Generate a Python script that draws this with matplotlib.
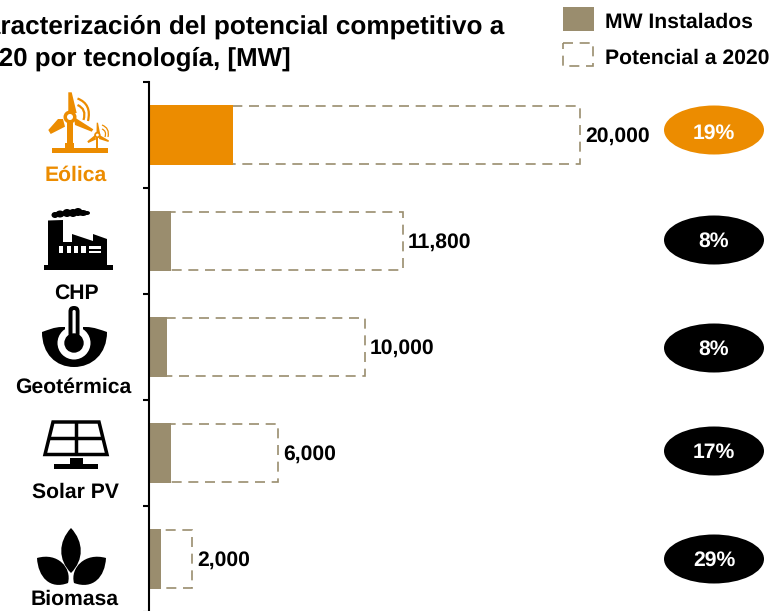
import matplotlib
matplotlib.use("Agg")
import matplotlib.pyplot as plt
from matplotlib.patches import Polygon, Rectangle, Ellipse, Circle, PathPatch, FancyBboxPatch
from matplotlib.path import Path

plt.rcParams['font.family'] = ['Liberation Sans', 'DejaVu Sans']
plt.rcParams['text.hinting'] = 'no_hinting'

categories = ["Eólica", "CHP", "Geotérmica", "Solar PV", "Biomasa"]
installed = [3900, 1000, 850, 1000, 550]
potential = [20000, 11800, 10000, 6000, 2000]
potential_labels = ["20,000", "11,800", "10,000", "6,000", "2,000"]
shares = ["19%", "8%", "8%", "17%", "29%"]
title = "Caracterización del potencial competitivo a\n2020 por tecnología, [MW]"
legend_labels = ["MW Instalados", "Potencial a 2020"]

TAUPE = "#9A8D6E"
ORANGE = "#EC8C00"
W, H = 775, 611
FS = 15.2

fig = plt.figure(figsize=(W / 100, H / 100), dpi=100, facecolor="white")
ax = fig.add_axes([149 / W, -1 / H, (W - 149) / W, 530 / H])
ax.set_xlim(0, (W - 149) / 0.02155)
ax.set_ylim(5, 0)
ypos = [i + 0.5 for i in range(len(categories))]
colors = [ORANGE] + [TAUPE] * 4
ax.barh(ypos, potential, height=0.55, facecolor="white", edgecolor=TAUPE,
        linewidth=1.2, linestyle=(0, (6, 4)))
ax.barh(ypos, installed, height=0.565, color=colors)
for y, v, s in zip(ypos, potential, potential_labels):
    ax.annotate(s, (v, y), xytext=(3.5, -0.7), textcoords="offset points", va="center",
                ha="left", fontsize=FS, fontweight="bold", color="black")
for s in ("top", "right", "bottom"):
    ax.spines[s].set_visible(False)
ax.spines["left"].set_linewidth(1.5)
ax.set_xticks([])
ax.set_yticks(range(6))
ax.set_yticklabels([])
ax.tick_params(axis="y", length=4.5, width=1.5)

# overlay in pixel units for icons, legend, title and badges
ov = fig.add_axes([0, 0, 1, 1], facecolor="none")
ov.set_xlim(0, W)
ov.set_ylim(H, 0)
ov.axis("off")

ov.text(-33, 27, title.split("\n")[0], fontsize=18.8, fontweight="bold", va="center", ha="left")
ov.text(-30, 59, title.split("\n")[1], fontsize=18.6, fontweight="bold", va="center", ha="left")

# legend
ov.add_patch(Rectangle((563, 7), 31, 24, fc=TAUPE, ec="none"))
ov.add_patch(Rectangle((563, 43), 30, 23, fc="white", ec=TAUPE, lw=1.2, ls=(0, (6, 4))))
ov.text(605, 22.5, legend_labels[0], fontsize=FS, fontweight="bold", va="center")
ov.text(605, 58.5, legend_labels[1], fontsize=FS, fontweight="bold", va="center")

# share badges
badge_y = [130, 240, 348, 451, 559]
text_y = [133, 241.5, 349.5, 452.5, 560.5]
for i, (by, ty, s) in enumerate(zip(badge_y, text_y, shares)):
    ov.add_patch(Ellipse((714, by), 100, 49, fc=ORANGE if i == 0 else "black", ec="none"))
    ov.text(714, ty, s, color="white", fontsize=FS, fontweight="bold", ha="center", va="center")

# category captions
cap_x = [76, 76, 73, 75, 75]
cap_y = [175.5, 293.5, 387.5, 492.5, 599.5]
for i, (c, cx, cy) in enumerate(zip(categories, cap_x, cap_y)):
    ov.text(cx, cy, c, color=ORANGE if i == 0 else "black", fontsize=FS,
            fontweight="bold", ha="center", va="center")

# --- icons ---
def poly(pts, col="black"):
    ov.add_patch(Polygon(pts, fc=col, ec="none"))

def curve(p0, p1, p2, lw, col=ORANGE):
    ov.add_patch(PathPatch(Path([p0, p1, p2], [Path.MOVETO, Path.CURVE3, Path.CURVE3]),
                           fc="none", ec=col, lw=lw, capstyle="butt"))

# big turbine
poly([(66.7, 122), (73.3, 122), (73.3, 143), (66.7, 143)], ORANGE)
poly([(65, 143), (74, 143), (74, 150), (65, 150)], ORANGE)
poly([(68.3, 92.3), (71.7, 92.3), (76.7, 113), (68.3, 113)], ORANGE)
poly([(93.3, 129.3), (91.7, 131.7), (75, 125), (74, 117)], ORANGE)
poly([(48.3, 130), (50.7, 134), (65, 126.7), (63, 119), (58, 119)], ORANGE)
ov.add_patch(Circle((70, 117), 6.5, fc=ORANGE, ec="none"))
ov.add_patch(Circle((70, 117), 3, fc="white", ec="none"))
# small turbine
poly([(96.3, 135), (98.3, 135), (98.3, 148), (96.3, 148)], ORANGE)
poly([(96.7, 122.7), (98, 122.7), (100, 133), (96.5, 133)], ORANGE)
poly([(109, 140.5), (108.4, 142), (99, 139), (99.5, 135)], ORANGE)
poly([(87.3, 141.3), (88.3, 143), (96, 139.5), (95, 135)], ORANGE)
ov.add_patch(Circle((97.4, 135), 3.2, fc=ORANGE, ec="none"))
ov.add_patch(Circle((97.4, 135), 1.4, fc="white", ec="none"))
# base and wind arcs
ov.add_patch(Rectangle((52, 148), 56, 5, fc=ORANGE, ec="none"))
curve((77.5, 98.5), (92, 104), (88, 121), 1.6)
curve((77.5, 105), (87, 109), (83.5, 120), 1.6)
curve((102, 125), (110, 128), (108, 137), 0.9)
curve((102, 129), (107, 131), (105, 137), 0.9)

# factory
ov.add_patch(Rectangle((44, 265), 69, 4.5, fc="black", ec="none"))
poly([(48, 266), (48, 220.5), (63, 220), (63, 242), (72, 242), (72, 234), (93, 241),
      (93, 234), (107, 239), (107, 266)])
for wx, ww in [(59, 4), (67, 4), (74, 4), (81, 5)]:
    ov.add_patch(Rectangle((wx, 246), ww, 7, fc="white", ec="none"))
ov.add_patch(Rectangle((89, 246), 12, 2.6, fc="white", ec="none"))
ov.add_patch(Rectangle((89, 250.5), 12, 2.6, fc="white", ec="none"))
for sx, sy, sw, sh in [(55, 215, 7, 6), (60, 214, 9, 7), (67, 213, 9, 8), (73, 213, 9, 8),
                       (78, 212, 9, 8), (83, 213, 9, 6), (87, 213, 6, 4)]:
    ov.add_patch(Ellipse((sx, sy), sw, sh, fc="black", ec="none"))

# geothermal
bowl = Path([(42, 332), (48, 330), (54, 327), (62, 327), (74, 327), (86, 327),
             (94, 327), (101, 330), (107, 332), (107, 354), (92, 367), (74, 367),
             (56, 367), (42, 354), (42, 332), (42, 332)],
            [Path.MOVETO, Path.CURVE4, Path.CURVE4, Path.CURVE4, Path.LINETO, Path.LINETO,
             Path.CURVE4, Path.CURVE4, Path.CURVE4, Path.CURVE4, Path.CURVE4, Path.CURVE4,
             Path.CURVE4, Path.CURVE4, Path.CURVE4, Path.CLOSEPOLY])
ov.add_patch(PathPatch(bowl, fc="black", ec="none"))
ov.add_patch(Circle((74, 343), 16.5, fc="white", ec="none"))
ov.add_patch(Rectangle((65, 304), 18, 28, fc="white", ec="none"))
ov.add_patch(FancyBboxPatch((68.5, 306), 11, 33, boxstyle="round,pad=0,rounding_size=5.4", fc="black", ec="none"))
ov.add_patch(FancyBboxPatch((72.5, 310), 3.2, 26, boxstyle="round,pad=0,rounding_size=1.5", fc="white", ec="none"))
ov.add_patch(Circle((74, 343), 9.7, fc="black", ec="none"))

# solar panel
ov.add_patch(Polygon([(53, 422), (99, 422), (107, 454.5), (45, 454.5)], fc="white", ec="black", lw=2.5, joinstyle="miter"))
ov.plot([76, 76], [422, 454], color="black", lw=2.5, solid_capstyle="butt")
ov.plot([49, 103], [438, 438], color="black", lw=2.5, solid_capstyle="butt")
ov.add_patch(Rectangle((70, 458), 13, 7, fc="black", ec="none"))
ov.add_patch(Rectangle((54, 464), 44, 4.5, fc="black", ec="none"))

# leaves
def leaf(p0, p1, c0, c1, c2, c3):
    verts = [p0, c0, c1, p1, c2, c3, p0, p0]
    codes = [Path.MOVETO, Path.CURVE4, Path.CURVE4, Path.CURVE4, Path.CURVE4, Path.CURVE4, Path.CURVE4, Path.CLOSEPOLY]
    ov.add_patch(PathPatch(Path(verts, codes), fc="black", ec="none"))

leaf((71, 528), (71, 573), (58, 542), (58, 560), (84, 560), (84, 542))
leaf((37, 558), (68, 583), (38, 577), (50, 590), (72, 568), (58, 552))
leaf((106, 558), (74, 583), (105, 577), (93, 590), (70, 568), (85, 552))

fig.savefig("out.png", dpi=100)
